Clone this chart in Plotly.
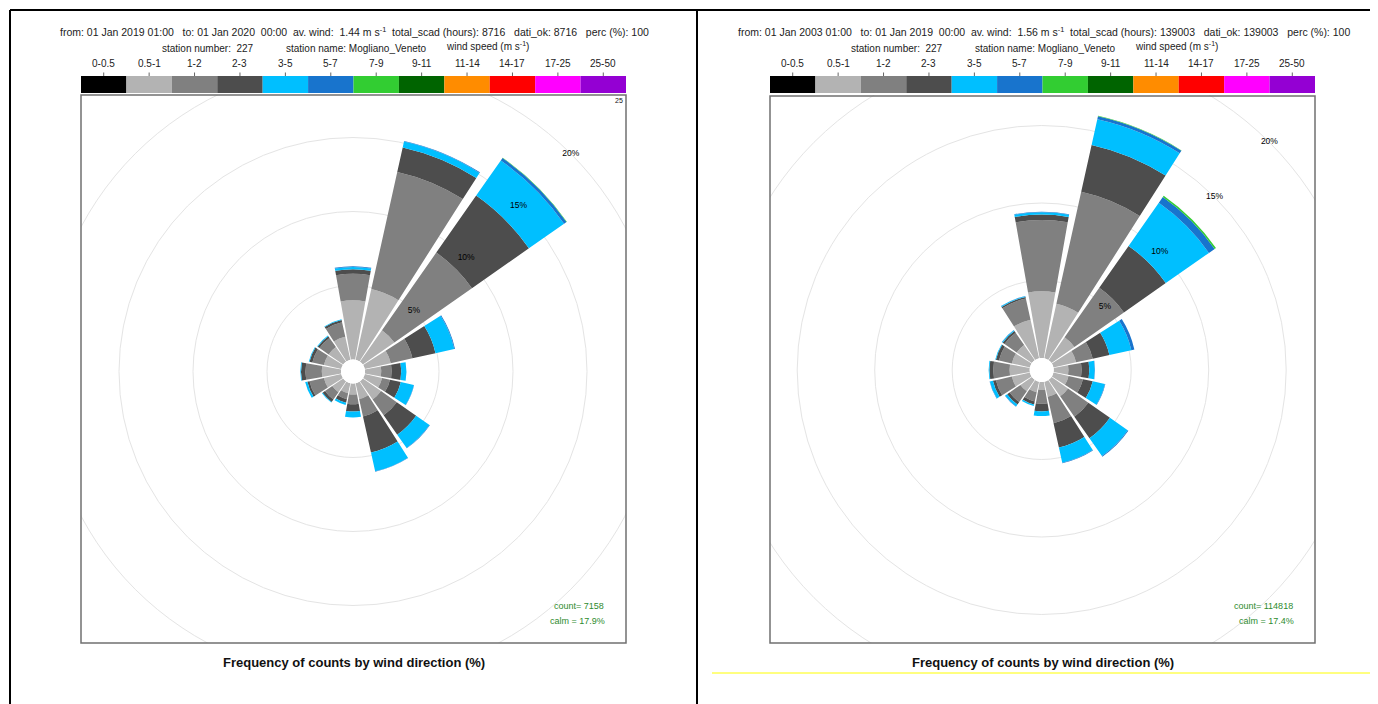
import plotly.graph_objects as go

# page is drawn with an 8px body margin, so the figure covers page pixels 8..1378 / 8..704
OFF = 8
W, H = 1378 - OFF, 704 - OFF

# ---------------- data ----------------
directions = [0, 22.5, 45, 67.5, 90, 112.5, 135, 157.5, 180, 202.5, 225, 247.5, 270, 292.5, 315, 337.5]
bin_labels = ["0-0.5", "0.5-1", "1-2", "2-3", "3-5", "5-7", "7-9", "9-11", "11-14", "14-17", "17-25", "25-50"]
bin_colors = ["#000000", "#b3b3b3", "#808080", "#4d4d4d", "#00bfff", "#1874cd", "#32cd32",
              "#006400", "#ff8c00", "#ff0000", "#ff00ff", "#9400d3"]

# left panel: 01 Jan 2019 - 01 Jan 2020 (percent per speed bin, by direction)
left_05_1 = [4.0, 4.9, 2.6, 1.8, 1.1, 1.2, 1.5, 1.1, 0.75, 0.7, 0.9, 1.2, 1.3, 1.2, 1.2, 1.6]
left_1_2 = [1.8, 8.1, 6.4, 1.5, 0.7, 0.55, 1.3, 1.2, 0.65, 0.4, 0.6, 1.0, 1.1, 0.8, 0.75, 1.0]
left_2_3 = [0.3, 1.7, 4.7, 1.6, 0.65, 0.75, 1.6, 2.5, 0.5, 0.25, 0.2, 0.15, 0.3, 0.2, 0.15, 0.15]
left_3_5 = [0.15, 0.4, 2.9, 1.3, 0.35, 0.9, 1.1, 1.3, 0.4, 0.15, 0.05, 0.15, 0.05, 0.05, 0.05, 0.05]
left_5_7 = [0.05, 0.05, 0.2, 0.05, 0.0, 0.02, 0.03, 0.02, 0.0, 0.0, 0.0, 0.0, 0.0, 0.0, 0.0, 0.0]
left_7_9 = [0.0, 0.0, 0.03, 0.0, 0.0, 0.0, 0.0, 0.0, 0.0, 0.0, 0.0, 0.0, 0.0, 0.0, 0.0, 0.0]

# right panel: 01 Jan 2003 - 01 Jan 2019
right_05_1 = [4.3, 3.6, 1.8, 1.5, 0.95, 1.0, 1.3, 1.0, 0.5, 0.7, 0.9, 1.2, 1.3, 1.2, 1.2, 2.55]
right_1_2 = [4.6, 7.4, 3.9, 1.1, 0.85, 0.95, 1.6, 1.75, 0.9, 0.6, 0.85, 1.05, 1.05, 0.85, 0.95, 1.4]
right_2_3 = [0.35, 3.1, 3.3, 1.1, 0.5, 0.65, 1.7, 1.6, 0.5, 0.2, 0.2, 0.2, 0.25, 0.2, 0.15, 0.1]
right_3_5 = [0.15, 1.7, 3.4, 1.45, 0.35, 0.8, 1.4, 1.0, 0.3, 0.1, 0.15, 0.2, 0.05, 0.05, 0.05, 0.05]
right_5_7 = [0.03, 0.2, 0.45, 0.2, 0.02, 0.03, 0.05, 0.03, 0.0, 0.0, 0.02, 0.02, 0.0, 0.0, 0.02, 0.02]
right_7_9 = [0.0, 0.02, 0.1, 0.0, 0.0, 0.0, 0.0, 0.0, 0.0, 0.0, 0.0, 0.0, 0.0, 0.0, 0.0, 0.0]

ring_values = [5, 10, 15, 20]
ring_labels = ["5%", "10%", "15%", "20%"]

left_header = ("from: 01 Jan 2019 01:00   to: 01 Jan 2020  00:00  av. wind:  1.44 m s<sup>-1</sup>  "
               "total_scad (hours): 8716   dati_ok: 8716   perc (%): 100")
right_header = ("from: 01 Jan 2003 01:00   to: 01 Jan 2019  00:00  av. wind:  1.56 m s<sup>-1</sup>  "
                "total_scad (hours): 139003   dati_ok: 139003   perc (%): 100")
left_count, left_calm = "count= 7158", "calm = 17.9%"
right_count, right_calm = "count= 114818", "calm = 17.4%"
title_text = "<b>Frequency of counts by wind direction (%)</b>"

# ---------------- helpers ----------------
FONT = "Liberation Sans, Arial, sans-serif"


def px(x):
    return (x - OFF) / W


def py(y):
    return 1 - (y - OFF) / H


left_bins = [left_05_1, left_1_2, left_2_3, left_3_5, left_5_7, left_7_9]
right_bins = [right_05_1, right_1_2, right_2_3, right_3_5, right_5_7, right_7_9]

fig = go.Figure()

for sub, series in (("polar", left_bins), ("polar2", right_bins)):
    for i, vals in enumerate(series):
        fig.add_trace(go.Barpolar(
            r=vals, theta=directions, width=20,
            marker=dict(color=bin_colors[i + 1], line=dict(width=0)),
            subplot=sub, showlegend=False, hoverinfo="skip",
        ))
    fig.add_trace(go.Scatterpolar(
        r=ring_values, theta=[45] * len(ring_values), mode="text", text=ring_labels,
        textfont=dict(family=FONT, size=8.5, color="#000000"),
        subplot=sub, showlegend=False, hoverinfo="skip",
    ))

# panel geometry (page pixels)
panels = [
    dict(frame=(81, 95, 626, 643), cx=353, cy=371.5, k=14.8, rmax=21.5, hole_px=12,
         header=left_header, count=left_count, calm=left_calm),
    dict(frame=(770, 96, 1315, 643), cx=1041.7, cy=370, k=15.5, rmax=20.7, hole_px=12,
         header=right_header, count=right_count, calm=right_calm),
]

polar_layouts = {}
for idx, p in enumerate(panels):
    R = p["hole_px"] + p["k"] * p["rmax"]
    polar_layouts["polar" if idx == 0 else "polar2"] = dict(
        domain=dict(x=[px(p["cx"] - R), px(p["cx"] + R)], y=[py(p["cy"] + R), py(p["cy"] - R)]),
        bgcolor="rgba(0,0,0,0)",
        hole=p["hole_px"] / R,
        barmode="stack",
        radialaxis=dict(range=[0, p["rmax"]], tickvals=ring_values, showticklabels=False,
                        showline=False, ticks="", gridcolor="#e4e4e4", gridwidth=1),
        angularaxis=dict(direction="clockwise", rotation=90, showgrid=False, showline=False,
                         showticklabels=False, ticks=""),
    )

shapes = []
annotations = []

# white masks clipping the rings to the frames
for (x0, y0, x1, y1) in [(0, 0, 81, 704), (626, 0, 770, 704), (1315, 0, 1378, 704),
                         (0, 0, 1378, 95), (0, 643, 1378, 704)]:
    shapes.append(dict(type="rect", xref="paper", yref="paper", x0=px(max(x0, OFF)), x1=px(x1),
                       y0=py(y1), y1=py(max(y0, OFF)),
                       fillcolor="white", line=dict(width=0), layer="above"))

for p in panels:
    fx0, fy0, fx1, fy1 = p["frame"]
    # frame
    shapes.append(dict(type="rect", xref="paper", yref="paper", x0=px(fx0), x1=px(fx1), y0=py(fy1), y1=py(fy0),
                       line=dict(color="#707070", width=1.5), fillcolor="rgba(0,0,0,0)", layer="above"))
    # colour key
    n = len(bin_labels)
    bw = (fx1 - fx0) / n
    for i, (lab, col) in enumerate(zip(bin_labels, bin_colors)):
        bx0 = fx0 + i * bw
        shapes.append(dict(type="rect", xref="paper", yref="paper", x0=px(bx0), x1=px(bx0 + bw),
                           y0=py(93), y1=py(76), fillcolor=col, line=dict(width=0), layer="above"))
        cxk = bx0 + bw / 2
        shapes.append(dict(type="line", xref="paper", yref="paper", x0=px(cxk), x1=px(cxk),
                           y0=py(76), y1=py(72.5), line=dict(color="#666666", width=1), layer="above"))
        annotations.append(dict(x=px(cxk), y=py(63), xref="paper", yref="paper", text=lab, showarrow=False,
                                xanchor="center", yanchor="middle",
                                font=dict(family=FONT, size=10, color="#222222")))
    mid = (fx0 + fx1) / 2
    annotations.append(dict(x=px(mid + 1), y=py(31), xref="paper", yref="paper", text=p["header"], showarrow=False,
                            xanchor="center", yanchor="middle", font=dict(family=FONT, size=10.5, color="#222222")))
    annotations.append(dict(x=px(fx0 + 79), y=py(48), xref="paper", yref="paper", text="station number:  227",
                            showarrow=False, xanchor="left", yanchor="middle",
                            font=dict(family=FONT, size=10, color="#222222")))
    annotations.append(dict(x=px(fx0 + 203), y=py(48), xref="paper", yref="paper",
                            text="station name: Mogliano_Veneto", showarrow=False, xanchor="left",
                            yanchor="middle", font=dict(family=FONT, size=10, color="#222222")))
    annotations.append(dict(x=px(fx0 + 363), y=py(46), xref="paper", yref="paper",
                            text="wind speed (m s<sup>-1</sup>)", showarrow=False, xanchor="left",
                            yanchor="middle", font=dict(family=FONT, size=10, color="#222222")))
    annotations.append(dict(x=px(fx1 - 20), y=py(606), xref="paper", yref="paper", text=p["count"],
                            showarrow=False, xanchor="right", yanchor="middle",
                            font=dict(family=FONT, size=9, color="#2e8b2e")))
    annotations.append(dict(x=px(fx1 - 19), y=py(621), xref="paper", yref="paper", text=p["calm"],
                            showarrow=False, xanchor="right", yanchor="middle",
                            font=dict(family=FONT, size=9, color="#2e8b2e")))
    annotations.append(dict(x=px(mid), y=py(662), xref="paper", yref="paper", text=title_text,
                            showarrow=False, xanchor="center", yanchor="middle",
                            font=dict(family=FONT, size=13, color="#111111")))

# clipped "25" ring label in the corner of the left frame
annotations.append(dict(x=px(619), y=py(100), xref="paper", yref="paper", text="25", showarrow=False,
                        xanchor="center", yanchor="middle", font=dict(family=FONT, size=7, color="#111111")))

# page table borders
for (x0, y0, x1, y1) in [(10, 10, 1378, 10), (10, 10, 10, 704), (697, 10, 697, 704)]:
    shapes.append(dict(type="line", xref="paper", yref="paper", x0=px(x0), x1=px(x1), y0=py(y0), y1=py(y1),
                       line=dict(color="#000000", width=2), layer="above"))
shapes.append(dict(type="line", xref="paper", yref="paper", x0=px(712), x1=px(1372), y0=py(673), y1=py(673),
                   line=dict(color="#ffff00", width=1), layer="above"))

fig.update_layout(
    width=W, height=H,
    margin=dict(l=0, r=0, t=0, b=0),
    paper_bgcolor="white", plot_bgcolor="white",
    showlegend=False,
    shapes=shapes, annotations=annotations,
    font=dict(family=FONT),
    **polar_layouts,
)

fig.write_html("out.html")
